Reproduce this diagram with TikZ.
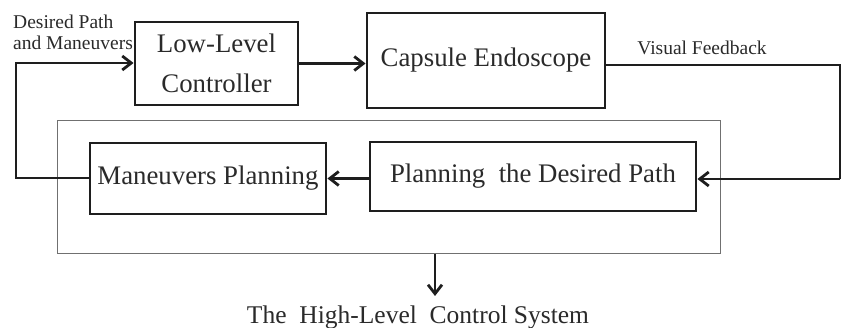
\documentclass[tikz,border=0pt]{standalone}
\usepackage{fontspec}
\setmainfont{Liberation Serif}
\usetikzlibrary{arrows.meta}
\definecolor{ink}{HTML}{1E1E1E}
\definecolor{txt}{HTML}{2A2A2A}
\definecolor{frame}{HTML}{707070}
\begin{document}
\begin{tikzpicture}[x=1pt,y=-1pt,
  blk/.style={draw=ink,line width=2.9pt,rectangle,inner sep=0pt,text=txt,
    font=\fontsize{26.8}{40}\selectfont,align=center},
  conn/.style={draw=ink,line width=2.8pt},
  arr/.style={conn,-{Straight Barb[length=9pt,width=14pt]}},
  lbl/.style={text=txt,font=\fontsize{19.5}{21}\selectfont,inner sep=0pt}]
\useasboundingbox (0,0) rectangle (843,328);
\node[draw=frame,line width=1pt,minimum width=663pt,minimum height=133pt,inner sep=0pt] (hl) at (388.5,187.5) {};
\node[blk,minimum width=163pt,minimum height=83pt] (llc) at (216.5,63.5) {Low-Level\\Controller};
\node[blk,minimum width=238pt,minimum height=95pt] (ce) at (486,60.5) {Capsule Endoscope};
\node[blk,minimum width=236pt,minimum height=71pt] (mp) at (208,178.5) {Maneuvers Planning};
\node[blk,minimum width=326pt,minimum height=69pt] (pdp) at (533,176.5) {Planning~~the Desired Path};
\node[lbl,align=left,anchor=north west] (inlbl) at (13,15) {Desired Path\\and Maneuvers};
\node[lbl,anchor=base] (fb) at (702,55) {Visual Feedback};
\node[text=txt,font=\fontsize{25.5}{30}\selectfont,anchor=base,inner sep=0pt] (hlc) at (418,324) {The~~High-Level~~Control System};
\coordinate (c1) at (16,178);
\coordinate (c2) at (16,63);
\coordinate (c3) at (840,65);
\coordinate (c4) at (840,179);
\coordinate (c5) at (435,254);
\coordinate (c6) at (435,296);
\draw[arr] (llc.east) -- (llc.east -| ce.west);
\draw[arr] (mp.west |- c1) -- (c1) -- (c2) -- (llc.west |- c2);
\draw[conn,line join=miter] (ce.east |- c3) -- (c3) -- (c4);
\draw[arr] (c4) -- (pdp.east |- c4);
\draw[arr] (pdp.west |- mp.east) -- (mp.east);
\draw[arr] (c5) -- (c6);
\end{tikzpicture}
\end{document}
